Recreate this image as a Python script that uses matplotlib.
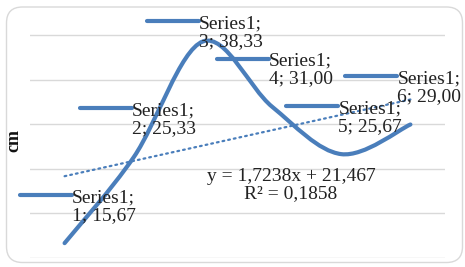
import numpy as np
import matplotlib.pyplot as plt
from matplotlib.path import Path
from matplotlib.patches import PathPatch, FancyBboxPatch

#******************
#   Data
#******************
points = [1, 2, 3, 4, 5, 6]
values = [15.67, 25.33, 38.33, 31.00, 25.67, 29.00]
value_text = ["15,67", "25,33", "38,33", "31,00", "25,67", "29,00"]
series_name = "Series1"
eq_text = "y = 1,7238x + 21,467\nR² = 0,1858"
y_title = "cm"
grid_vals = [14, 19, 24, 29, 34, 39]

# label offsets from each point, pixels (dx right, dy up) for the first line
label_off = [(7, 48), (-2, 49), (-4, 20), (-3, 48), (-3, 48), (-13, 48)]

blue = "#4a7ebb"
grey = "#d9d9d9"

#*******************
#   Figure / axes
#*******************
plt.rcParams["font.family"] = ["Liberation Serif", "DejaVu Serif"]
fig = plt.figure(figsize=(4.65, 2.67), dpi=100)
ax = fig.add_axes([30 / 465, 9 / 267, 415 / 465, 250 / 267])
ax.set_xlim(0.5, 6.5)
ax.set_ylim(14, 14 + 250 / 8.9)
ax.set_yticks(grid_vals)
ax.set_xticks([])
ax.tick_params(left=False, labelleft=False)
ax.grid(axis="y", color=grey, lw=1)
for s in ax.spines.values():
    s.set_visible(False)
ax.set_facecolor("none")

ax.set_ylabel(y_title, fontsize=13, fontweight="bold", color="#111111")
ax.yaxis.set_label_coords(-7.5 / 415, (258 - 141) / 250)

# rounded chart border
fig.patches.append(FancyBboxPatch((6.5, 4.5), 456, 255.5,
                                  boxstyle="round,pad=0,rounding_size=16",
                                  transform=None, fc="none", ec=grey, lw=1))

#*******************
#   Smoothed line
#*******************
pts = np.column_stack([points, values]).astype(float)
n = len(pts)
verts = [pts[0]]
codes = [Path.MOVETO]
for i in range(n - 1):
    p0 = pts[max(i - 1, 0)]
    p1 = pts[i]
    p2 = pts[i + 1]
    p3 = pts[min(i + 2, n - 1)]
    verts += [p1 + (p2 - p0) / 6, p2 - (p3 - p1) / 6, p2]
    codes += [Path.CURVE4] * 3
ax.add_patch(PathPatch(Path(verts, codes), fc="none", ec=blue, lw=3,
                       capstyle="round", joinstyle="round", zorder=3))

# linear trendline
k, b = np.polyfit(points, values, 1)
tx = np.array([points[0], points[-1]], dtype=float)
ax.plot(tx, k * tx + b, color=blue, lw=1.6, ls=(0, (0.8, 1.8)),
        dash_capstyle="round", zorder=3)

ax.text(0.629, 0.292, eq_text, transform=ax.transAxes, ha="center",
        va="center", multialignment="center", fontsize=14, color="#222222",
        linespacing=1.05, zorder=5)

#*******************
#   Data labels
#*******************
for i in range(n):
    px, py = ax.transData.transform((points[i], values[i]))
    dx, dy = label_off[i]
    lx = px + dx
    ly = py + dy
    fig.lines.append(plt.Line2D([lx - 52, lx], [ly, ly], transform=None,
                                color=blue, lw=3, solid_capstyle="round",
                                zorder=4))
    fig.text(lx, ly - 11.5,
             f"{series_name};\n{points[i]}; {value_text[i]}",
             transform=None, ha="left", va="center", fontsize=14,
             color="#222222", linespacing=1.05, zorder=6)

fig.savefig("out.png", dpi=100)
